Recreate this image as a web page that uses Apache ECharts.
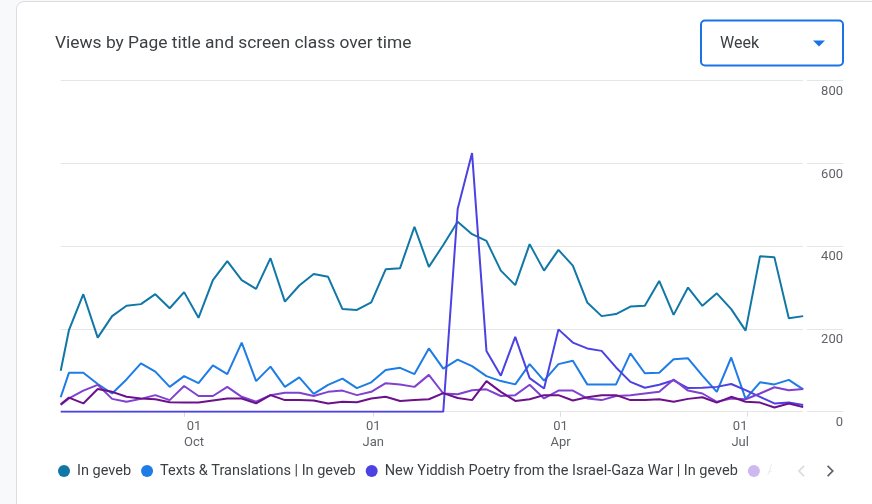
<!DOCTYPE html>
<html><head><meta charset="utf-8">
<script src="https://cdn.jsdelivr.net/npm/echarts@6/dist/echarts.min.js"></script>
<style>
html,body{margin:0;padding:0;width:872px;height:504px;overflow:hidden;background:#f8f9fa;}
#card{position:absolute;left:16px;top:1px;width:900px;height:600px;background:#fff;border:1px solid #dadce0;border-radius:8px;box-sizing:border-box;}
#chart{position:absolute;left:0;top:0;width:872px;height:504px;}
</style></head><body>
<div id="card"></div><div id="chart"></div>
<script>
// ---- data ----
const weeks = ['2023-08-02','2023-08-06','2023-08-13','2023-08-20','2023-08-27','2023-09-03','2023-09-10','2023-09-17','2023-09-24',
  '2023-10-01','2023-10-08','2023-10-15','2023-10-22','2023-10-29','2023-11-05','2023-11-12','2023-11-19','2023-11-26',
  '2023-12-03','2023-12-10','2023-12-17','2023-12-24','2023-12-31','2024-01-07','2024-01-14','2024-01-21','2024-01-28',
  '2024-02-04','2024-02-11','2024-02-18','2024-02-25','2024-03-03','2024-03-10','2024-03-17','2024-03-24','2024-03-31',
  '2024-04-07','2024-04-14','2024-04-21','2024-04-28','2024-05-05','2024-05-12','2024-05-19','2024-05-26','2024-06-02',
  '2024-06-09','2024-06-16','2024-06-23','2024-06-30','2024-07-07','2024-07-14','2024-07-21','2024-07-28'];
const seriesNames = ['In geveb', 'Texts & Translations | In geveb', 'New Yiddish Poetry from the Israel-Gaza War | In geveb',
  'About | In geveb', 'Archive | In geveb'];
const inGeveb = [99,197,284,179,231,256,260,284,250,289,227,318,364,318,297,371,266,305,333,326,248,246,264,344,347,447,350,
  403,459,429,413,341,306,405,341,391,353,264,231,236,254,256,316,234,300,256,286,248,196,376,373,226,231];
const textsTranslations = [35,94,94,67,44,78,117,97,60,86,69,112,91,167,74,109,60,83,43,65,80,57,71,101,106,91,153,
  104,126,110,86,74,66,115,75,115,123,66,66,66,141,93,94,127,129,87,48,131,31,71,66,77,54];
const yiddishPoetry = [0,0,0,0,0,0,0,0,0,0,0,0,0,0,0,0,0,0,0,0,0,0,0,0,0,0,0,0,
  490,625,147,87,181,81,56,199,167,153,147,107,72,58,65,76,57,58,60,67,52,36,20,22,16];
const seriesFour = [16,32,51,65,31,24,31,40,28,62,38,38,60,36,24,40,46,46,38,48,51,40,48,69,66,60,89,44,42,
  52,54,38,40,65,32,51,51,32,28,38,40,44,48,78,51,44,24,32,30,44,59,52,55];
const seriesFive = [18,34,20,55,48,36,32,30,23,22,22,27,32,32,20,40,28,28,27,20,24,23,32,36,26,28,30,45,33,
  28,74,48,26,30,40,40,27,35,40,40,28,28,30,24,31,35,22,36,24,22,10,20,11];
const quarterTicks = ['2023-10-01','2024-01-01','2024-04-01','2024-07-01'];
const quarterLabels = ['Oct','Jan','Apr','Jul'];
const yTicks = {min: 0, max: 800, interval: 200};
const colors = ['#1077a6','#1d7ce6','#4c42e2','#8041d0','#6c118a'];

// ---- helpers ----
function ts(s){ const p = s.split('-').map(Number); return new Date(p[0], p[1]-1, p[2]).getTime(); }
const allSeries = [inGeveb, textsTranslations, yiddishPoetry, seriesFour, seriesFive];
const quarterTs = quarterTicks.map(ts);
const FONT = 'Roboto, "Noto Sans", sans-serif';
const lblStyle = {fontSize: 13, color: '#5f6368', fontFamily: FONT, lineHeight: 15.5};

const chart = echarts.init(document.getElementById('chart'), null, {renderer: 'canvas'});
chart.setOption({
  animation: false,
  color: colors,
  title: {
    text: 'Views by Page title and screen class over time',
    left: 55, top: 35.5, padding: 0,
    textStyle: {fontSize: 17.4, fontWeight: 'normal', color: '#3c4043', fontFamily: FONT}
  },
  graphic: [
    {type: 'rect', shape: {x: 701, y: 20.5, width: 142, height: 45, r: 4},
     style: {fill: '#fff', stroke: '#1a73e8', lineWidth: 2}},
    {type: 'text', x: 720, y: 43.5,
     style: {text: 'Week', fontSize: 16, fill: '#3c4043', fontFamily: FONT, verticalAlign: 'middle'}},
    {type: 'polygon', shape: {points: [[813, 40.5], [825, 40.5], [819, 46.5]]}, style: {fill: '#1a73e8'}}
  ],
  legend: {
    type: 'scroll', orient: 'horizontal',
    left: 58, top: 463.5, width: 776, padding: 0,
    itemWidth: 16, itemHeight: 12, itemGap: 10, icon: 'circle',
    textStyle: {fontSize: 14.5, color: '#3c4043', fontFamily: FONT},
    data: seriesNames.map((n, i) => i === 3
      ? {name: n, itemStyle: {color: '#cdb8f0'}, textStyle: {color: '#f0edf5'}}
      : {name: n}),
    pageButtonItemGap: 10, pageButtonGap: 26,
    pageFormatter: function(){ return ''; },
    pageTextStyle: {fontSize: 1, color: '#fff'},
    pageIcons: {horizontal: [
      'path://M7,0 L8.5,1.4 L2.9,7 L8.5,12.6 L7,14 L0,7 Z',
      'path://M1.5,0 L8.5,7 L1.5,14 L0,12.6 L5.6,7 L0,1.4 Z']},
    pageIconSize: [7, 14],
    pageIconColor: '#5f6368', pageIconInactiveColor: '#dadce0'
  },
  grid: [
    {left: 60.7, right: 68.8, top: 80.7, bottom: 92.3},
    {left: 807, right: 29, top: 80.7, bottom: 92.3}
  ],
  xAxis: [
    {type: 'value', gridIndex: 0, min: ts(weeks[0]), max: ts(weeks[weeks.length-1]),
     axisLine: {show: false}, splitLine: {show: false},
     axisTick: {show: true, customValues: quarterTs, length: 5, lineStyle: {color: '#dadce0'}},
     axisLabel: {
       show: true, customValues: quarterTs, margin: 7.5,
       formatter: function(v){
         let idx = 0, best = Infinity;
         quarterTs.forEach((t, i) => { const d = Math.abs(t - v); if (d < best) { best = d; idx = i; } });
         const st = idx === 0 ? 'l' : (idx === quarterTs.length - 1 ? 'r' : 'c');
         return '{' + st + '|01}\n{' + st + '|' + quarterLabels[idx] + '}';
       },
       rich: {
         l: Object.assign({padding: [0, 0, 0, 20]}, lblStyle),
         c: Object.assign({}, lblStyle),
         r: Object.assign({padding: [0, 15, 0, 0]}, lblStyle)
       }
     }},
    {type: 'value', gridIndex: 1, min: 0, max: 1, show: false}
  ],
  yAxis: [
    {type: 'value', gridIndex: 0, position: 'right', min: yTicks.min, max: yTicks.max, interval: yTicks.interval,
     axisLabel: {show: false}, axisLine: {show: false}, axisTick: {show: false},
     splitLine: {show: true, lineStyle: {color: '#e6e6e6', width: 1}}},
    {type: 'value', gridIndex: 1, position: 'right', min: yTicks.min, max: yTicks.max, interval: yTicks.interval,
     axisLine: {show: false}, axisTick: {show: false},
     splitLine: {show: true, lineStyle: {color: '#e6e6e6', width: 1}},
     axisLabel: {inside: true, margin: 0, verticalAlign: 'top', padding: [4.5, 0, 0, 0],
       fontSize: 13, color: '#5f6368', fontFamily: FONT}}
  ],
  series: seriesNames.map((n, i) => ({
    name: n, type: 'line', xAxisIndex: 0, yAxisIndex: 0,
    showSymbol: false, symbol: 'none', smooth: false,
    lineStyle: {width: 2, color: colors[i]},
    itemStyle: {color: colors[i]},
    emphasis: {disabled: true},
    data: weeks.map((w, k) => [ts(w), allSeries[i][k]])
  }))
});
</script></body></html>
